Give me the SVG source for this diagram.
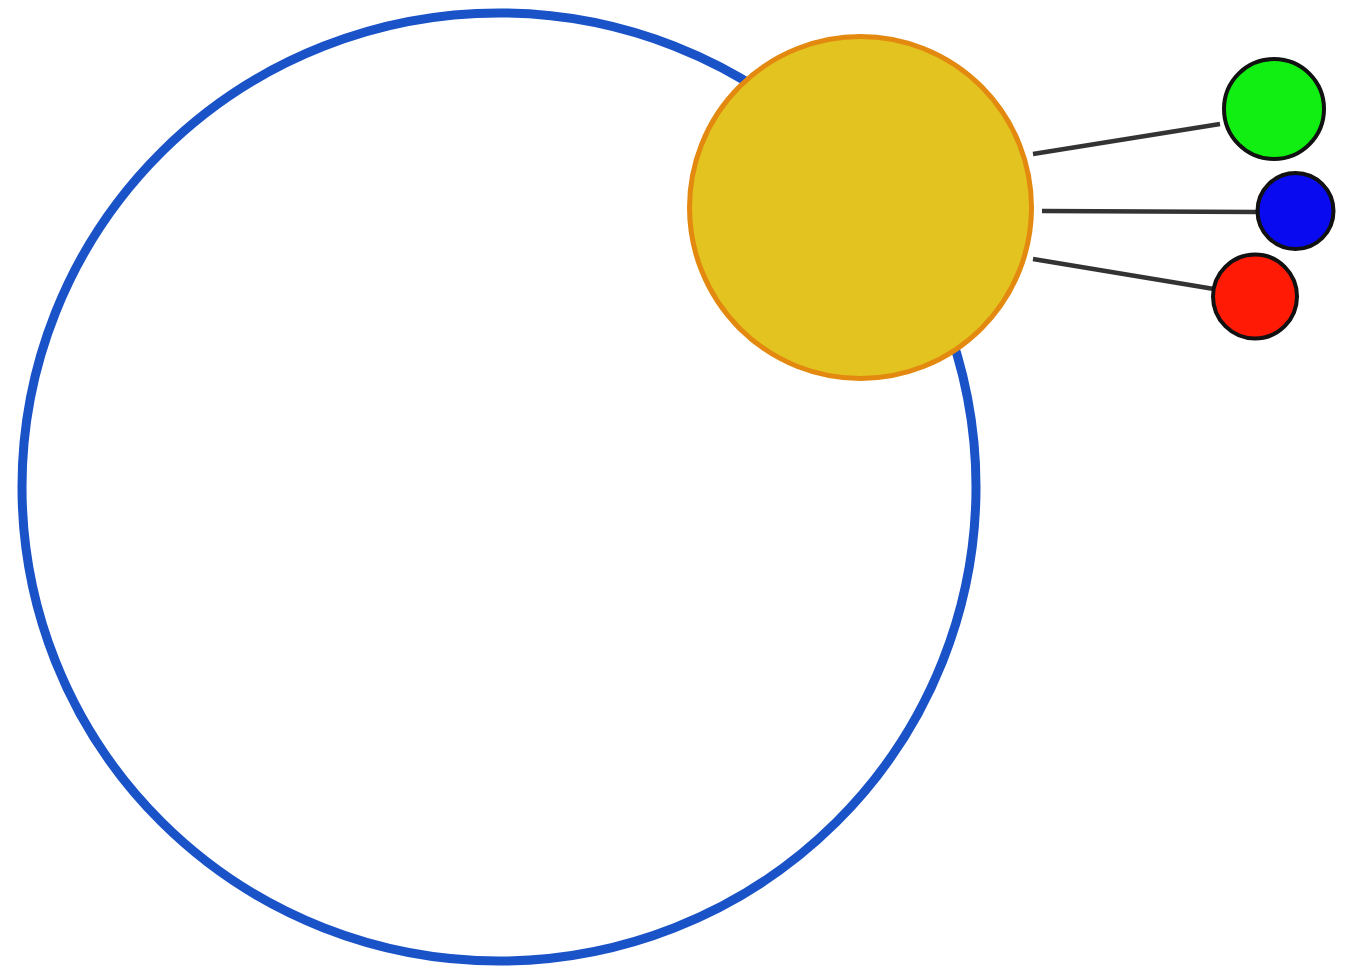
<svg xmlns="http://www.w3.org/2000/svg" width="1364" height="973" viewBox="0 0 1364 973">
  <style>
    .link { stroke: #333333; stroke-width: 4.5; stroke-linecap: butt; fill: none; }
    .small { stroke: #111111; stroke-width: 4; }
  </style>
  <rect width="1364" height="973" fill="#ffffff"/>
  <g id="orbit">
    <ellipse cx="499" cy="487" rx="477" ry="474" fill="none" stroke="#1a52c8" stroke-width="9"/>
  </g>
  <g id="connectors">
    <line class="link" x1="1033" y1="154" x2="1220" y2="124"/>
    <line class="link" x1="1042" y1="211" x2="1257" y2="212"/>
    <line class="link" x1="1033" y1="259" x2="1214" y2="289"/>
  </g>
  <g id="sun">
    <circle cx="860.5" cy="207.5" r="171" fill="#e2c31f" stroke="#e3890f" stroke-width="5"/>
  </g>
  <g id="green-node">
    <circle class="small" cx="1274" cy="109" r="50" fill="#11ee11"/>
  </g>
  <g id="blue-node">
    <circle class="small" cx="1295.5" cy="211" r="38" fill="#0a0af0"/>
  </g>
  <g id="red-node">
    <circle class="small" cx="1255" cy="296.5" r="42" fill="#ff1a05"/>
  </g>
</svg>
